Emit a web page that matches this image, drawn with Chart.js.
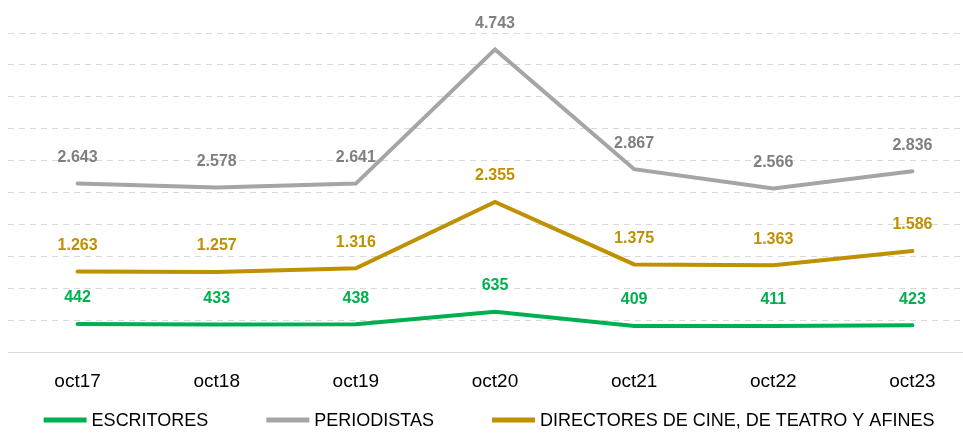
<!DOCTYPE html>
<html>
<head>
<meta charset="utf-8">
<script src="https://cdn.jsdelivr.net/npm/chart.js@4"></script>
<style>
  html, body { margin: 0; padding: 0; background: #fff; overflow: hidden; }
  #wrap { width: 984px; height: 433px; position: relative; }
</style>
</head>
<body>
<div id="wrap"><canvas id="chart"></canvas></div>
<script>
const categories = ['oct17', 'oct18', 'oct19', 'oct20', 'oct21', 'oct22', 'oct23'];
const escritores = [442, 433, 438, 635, 409, 411, 423];
const periodistas = [2643, 2578, 2641, 4743, 2867, 2566, 2836];
const directores = [1263, 1257, 1316, 2355, 1375, 1363, 1586];

const FONT = "'Liberation Sans', Arial, sans-serif";

function fmt(v) {
  return v.toString().replace(/\B(?=(\d{3})+(?!\d))/g, '.');
}

// etiquetas de valor encima de cada punto
const valueLabels = {
  id: 'valueLabels',
  afterDatasetsDraw(chart) {
    const ctx = chart.ctx;
    ctx.save();
    ctx.font = 'bold 16px ' + FONT;
    ctx.textAlign = 'center';
    ctx.textBaseline = 'middle';
    chart.data.datasets.forEach((ds, i) => {
      const meta = chart.getDatasetMeta(i);
      ctx.fillStyle = ds.labelColor;
      meta.data.forEach((pt, j) => {
        ctx.fillText(fmt(ds.data[j]), pt.x, pt.y - 26);
      });
    });
    ctx.restore();
  }
};

// leyenda abajo, estilo Excel (marca pegada al texto)
const bottomLegend = {
  id: 'bottomLegend',
  afterDraw(chart) {
    const ctx = chart.ctx;
    const sets = chart.data.datasets;
    const boxW = 43, gapText = 5, gapItem = 58, y = 420, center = 489;
    ctx.save();
    ctx.font = '18px ' + FONT;
    ctx.textBaseline = 'middle';
    ctx.textAlign = 'left';
    const widths = sets.map(ds => boxW + gapText + ctx.measureText(ds.label).width);
    const total = widths.reduce((a, b) => a + b, 0) + gapItem * (sets.length - 1);
    let x = center - total / 2;
    sets.forEach((ds, i) => {
      ctx.fillStyle = ds.borderColor;
      ctx.fillRect(x, y - 2.5, boxW, 5);
      ctx.fillStyle = '#000';
      ctx.fillText(ds.label, x + boxW + gapText, y + 1);
      x += widths[i] + gapItem;
    });
    ctx.restore();
  }
};

new Chart(document.getElementById('chart'), {
  type: 'line',
  data: {
    labels: categories,
    datasets: [
      { label: 'ESCRITORES', data: escritores, borderColor: '#00B050', backgroundColor: '#00B050', labelColor: '#00B050' },
      { label: 'PERIODISTAS', data: periodistas, borderColor: '#A5A5A5', backgroundColor: '#A5A5A5', labelColor: '#7F7F7F' },
      { label: 'DIRECTORES DE CINE, DE TEATRO Y AFINES', data: directores, borderColor: '#BF9000', backgroundColor: '#BF9000', labelColor: '#BF9000' }
    ]
  },
  options: {
    responsive: true,
    maintainAspectRatio: false,
    animation: false,
    layout: { padding: { left: 8, right: 2, top: 33, bottom: 22 } },
    elements: {
      line: { borderWidth: 4, tension: 0, borderCapStyle: 'round', borderJoinStyle: 'miter' },
      point: { radius: 0, hoverRadius: 0 }
    },
    scales: {
      x: {
        offset: true,
        grid: { display: false, drawTicks: false },
        border: { display: true, color: '#D9D9D9', width: 1 },
        ticks: { color: '#000', font: { family: FONT, size: 19 }, padding: 18 }
      },
      y: {
        min: 0,
        max: 5000,
        ticks: { stepSize: 500, display: false },
        grid: { color: '#D9D9D9', drawTicks: false },
        border: { display: false, dash: [6, 5] }
      }
    },
    plugins: {
      legend: { display: false },
      tooltip: { enabled: false }
    }
  },
  plugins: [valueLabels, bottomLegend]
});
</script>
</body>
</html>
